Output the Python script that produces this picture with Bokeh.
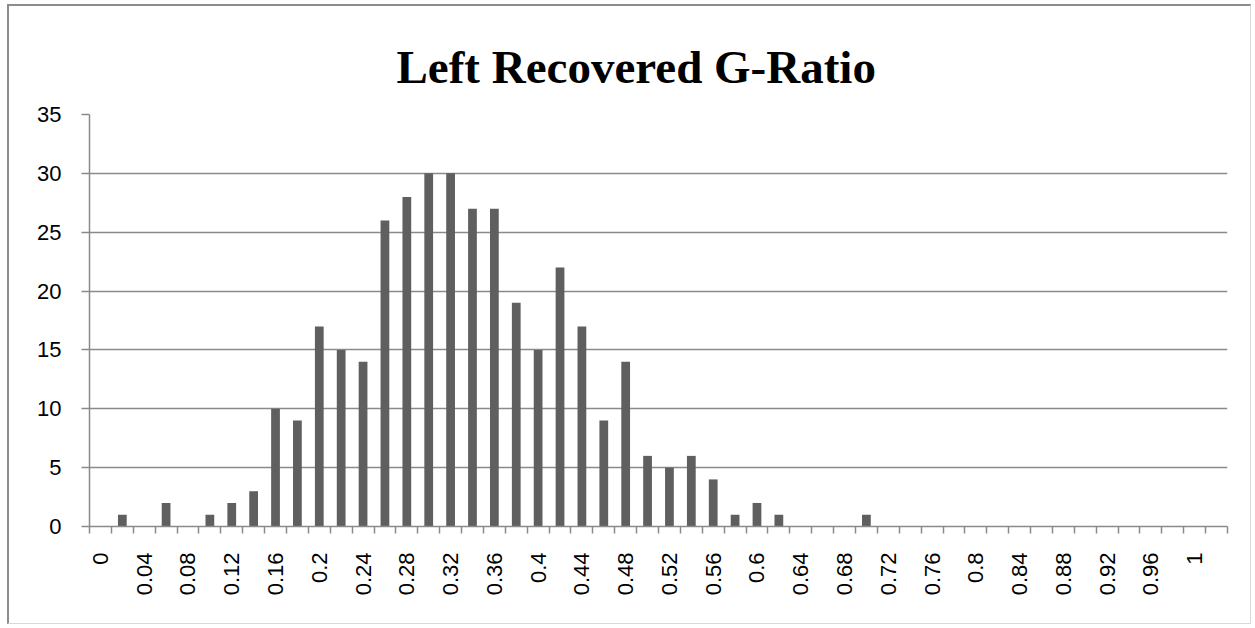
import math
from bokeh.plotting import figure
from bokeh.models import FixedTicker, Range1d, ColumnDataSource
from bokeh.embed import file_html
from bokeh.resources import INLINE

title_text = "Left Recovered G-Ratio"

bin_labels = ["0", "0.02", "0.04", "0.06", "0.08", "0.1", "0.12", "0.14", "0.16", "0.18",
              "0.2", "0.22", "0.24", "0.26", "0.28", "0.3", "0.32", "0.34", "0.36", "0.38",
              "0.4", "0.42", "0.44", "0.46", "0.48", "0.5", "0.52", "0.54", "0.56", "0.58",
              "0.6", "0.62", "0.64", "0.66", "0.68", "0.7", "0.72", "0.74", "0.76", "0.78",
              "0.8", "0.82", "0.84", "0.86", "0.88", "0.9", "0.92", "0.94", "0.96", "0.98",
              "1", "1.02"]

counts = [0, 1, 0, 2, 0, 1, 2, 3, 10, 9,
          17, 15, 14, 26, 28, 30, 30, 27, 27, 19,
          15, 22, 17, 9, 14, 6, 5, 6, 4, 1,
          2, 1, 0, 0, 0, 1, 0, 0, 0, 0,
          0, 0, 0, 0, 0, 0, 0, 0, 0, 0,
          0, 0]

y_ticks = [0, 5, 10, 15, 20, 25, 30, 35]

n = len(bin_labels)
positions = list(range(n))
src = ColumnDataSource(dict(x=positions, top=counts))

GRID = "#8a8a8a"
BAR = "#5f5f5f"
LABEL_FONT = "Liberation Sans"

p = figure(width=1244, height=620, output_backend="svg", toolbar_location=None,
           x_range=Range1d(-0.5, n - 0.5), y_range=Range1d(0, 35),
           min_border_left=80, min_border_right=26, min_border_top=108, min_border_bottom=100)

p.vbar(x="x", top="top", width=0.4, source=src, fill_color=BAR, line_color=None)

p.outline_line_color = None
p.background_fill_color = "white"
p.border_fill_color = "white"

# title
p.title.text = title_text
p.title.text_font = "Liberation Serif"
p.title.text_font_style = "bold"
p.title.text_font_size = "47px"
p.title.text_color = "black"
p.title.align = "left"
p.title.standoff = 44
p.title.offset = 307

# x axis
p.xaxis.ticker = FixedTicker(ticks=positions[::2],
                             minor_ticks=[i - 0.5 for i in range(n + 1)])
p.xaxis.major_label_overrides = {i: bin_labels[i] for i in positions[::2]}
p.xaxis.major_label_orientation = math.pi / 2
p.xaxis.major_tick_line_color = None
p.xaxis.major_tick_out = 0
p.xaxis.major_tick_in = 0
p.xaxis.minor_tick_line_color = GRID
p.xaxis.minor_tick_out = 7
p.xaxis.minor_tick_in = 0
p.xaxis.minor_tick_line_width = 1.5
p.xaxis.major_label_standoff = 19
p.xaxis.axis_line_color = GRID
p.xaxis.axis_line_width = 1.5
p.xaxis.major_label_text_font = LABEL_FONT
p.xaxis.major_label_text_font_size = "22px"
p.xaxis.major_label_text_color = "black"

# y axis
p.yaxis.ticker = FixedTicker(ticks=y_ticks)
p.yaxis.major_tick_out = 8
p.yaxis.major_tick_in = 0
p.yaxis.major_tick_line_color = GRID
p.yaxis.major_tick_line_width = 1.5
p.yaxis.minor_tick_line_color = None
p.yaxis.axis_line_color = GRID
p.yaxis.axis_line_width = 1.5
p.yaxis.major_label_standoff = 20
p.yaxis.major_label_text_font = LABEL_FONT
p.yaxis.major_label_text_font_size = "22px"
p.yaxis.major_label_text_color = "black"

# grid
p.xgrid.visible = False
p.ygrid.ticker = FixedTicker(ticks=y_ticks)
p.ygrid.grid_line_color = GRID
p.ygrid.grid_line_width = 1.5

p.styles = {"margin-left": "7px", "margin-top": "4px",
            "border-left": "2px solid #8c8c8c", "border-top": "2px solid #8c8c8c",
            "border-right": "1px solid #d9d9d9", "border-bottom": "1px solid #d9d9d9"}

open("out.html", "w").write(file_html(p, INLINE))
